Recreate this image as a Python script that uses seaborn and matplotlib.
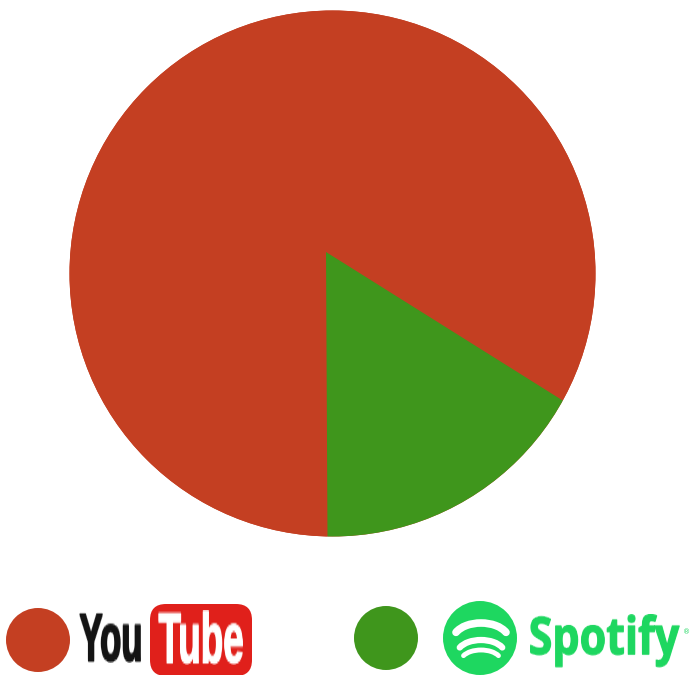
import matplotlib
matplotlib.use("Agg")
import matplotlib.pyplot as plt
import matplotlib.patheffects as pe
from matplotlib.patches import Circle, FancyBboxPatch, Arc
import numpy as np
import seaborn as sns

# shares (percent)
services = ["YouTube", "Spotify"]
shares = [84, 16]
pie_colors = ["#C43F22", "#3F961C"]

sns.set_theme(style="white")

W, H = 693, 675
fig = plt.figure(figsize=(W / 100, H / 100), dpi=100, facecolor="white")


def tall(k):
    # the logo lettering is condensed, no narrow font here so stretch the drawn text
    def _f(img, dpi):
        h = img.shape[0]
        new_h = int(h * k)
        pos = np.linspace(0, h - 1, new_h)
        lo = pos.astype(int)
        hi = np.minimum(lo + 1, h - 1)
        t = (pos - lo)[:, None, None]
        return img[lo] * (1 - t) + img[hi] * t, 0, -(new_h - h) // 2
    return _f


def heavier(width, color):
    return [pe.withStroke(linewidth=width, foreground=color)]


# pixel coordinates, y goes down like in the picture
bg = fig.add_axes([0, 0, 1, 1])
bg.set_xlim(0, W)
bg.set_ylim(H, 0)
bg.axis("off")

# whole disc first, the slice apex is not at the disc centre in the original
disc = Circle((332.5, 273.5), 263, facecolor=pie_colors[0], edgecolor="none")
bg.add_patch(disc)

# pie axes in pixel units so that centre/radius line up with the disc
pie_ax = fig.add_axes([0, 0, 1, 1], facecolor="none")
pie_ax.axis("off")
wedges, _ = pie_ax.pie(shares, colors=pie_colors, startangle=270 - shares[0] * 3.6 + 0.3,
                       center=(326, H - 252), radius=340, frame=False)
pie_ax.set_xlim(0, W)
pie_ax.set_ylim(0, H)
pie_ax.set_aspect("equal")
for w in wedges:
    w.set_linewidth(0)
    w.set_clip_on(True)
    w.set_clip_path(disc)

# legend row
fg = fig.add_axes([0, 0, 1, 1], facecolor="none")
fg.set_xlim(0, W)
fg.set_ylim(H, 0)
fg.axis("off")

fg.add_patch(Circle((38, 640), 32, facecolor=pie_colors[0], edgecolor="none"))
fg.add_patch(Circle((386, 638), 32, facecolor=pie_colors[1], edgecolor="none"))

fg.text(111, 640, "You", family="Liberation Sans", fontweight="bold", fontsize=25, color="#141414",
        ha="center", va="center", agg_filter=tall(1.9), path_effects=heavier(1.0, "#141414"))
fg.add_patch(FancyBboxPatch((162, 616), 78, 48, boxstyle="round,pad=12,rounding_size=16",
                            facecolor="#E0201B", edgecolor="none"))
fg.text(201, 641, "Tube", family="Liberation Sans", fontweight="bold", fontsize=26.5, color="white",
        ha="center", va="center", agg_filter=tall(1.9), path_effects=heavier(0.8, "white"))

# spotify mark
spotify = "#1ED760"
fg.add_patch(Circle((480, 638), 37, facecolor=spotify, edgecolor="none"))
for cy, aw, ah, lw in [(640, 56, 34, 5.5), (654, 48, 28, 4.5), (661, 40, 22, 3.5)]:
    fg.add_patch(Arc((481, cy), aw, ah, theta1=197, theta2=343, color="white", lw=lw, capstyle="round"))

fg.text(604, 640, "Spotify", family="Open Sans", fontweight="bold", fontsize=31, color=spotify,
        ha="center", va="center", agg_filter=tall(1.2), path_effects=heavier(0.8, spotify))
fg.text(687, 632, "®", family="DejaVu Sans", fontsize=5, color=spotify, ha="center", va="center")

fig.savefig("out.png", dpi=100)
